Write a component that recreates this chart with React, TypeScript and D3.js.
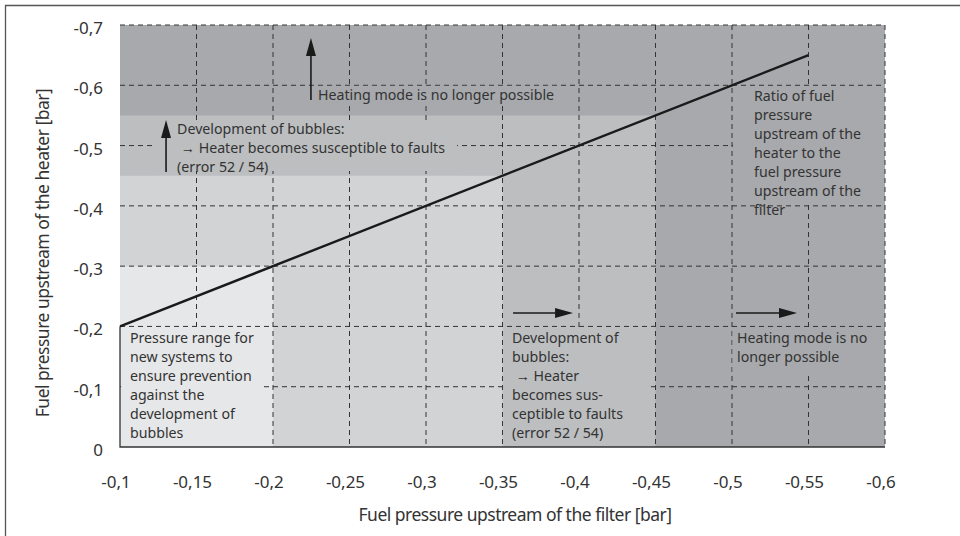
import React, { useEffect, useRef } from 'react';
import * as d3 from 'd3';

// axis ticks (bar)
const xTicks = [-0.1, -0.15, -0.2, -0.25, -0.3, -0.35, -0.4, -0.45, -0.5, -0.55, -0.6];
const yTicks = [0, -0.1, -0.2, -0.3, -0.4, -0.5, -0.6, -0.7];

// ratio line: heater pressure vs filter pressure
const ratioX = [-0.1, -0.55];
const ratioY = [-0.2, -0.65];

// nested shaded zones, drawn dark -> light
const zoneX1 = [-0.6, -0.45, -0.35, -0.2];
const zoneY1 = [-0.7, -0.55, -0.45, -0.3];
const zoneFill = ['#a7a9ac', '#bcbec0', '#d1d3d4', '#e6e7e8'];

// text boxes that hide the grid under the annotations [x0, x1, y0, y1, fill]
const boxes: [number, number, number, number, string][] = [
    [-0.2262, -0.3856, -0.599, -0.571, '#a7a9ac'],
    [-0.1229, -0.3203, -0.5407, -0.4578, '#bcbec0'],
    [-0.5007, -0.5987, -0.5971, -0.4030, '#a7a9ac'],
    [-0.1007, -0.1935, -0.1976, -0.0017, '#e6e7e8'],
    [-0.3503, -0.4444, -0.1976, -0.0017, '#bcbec0'],
    [-0.5003, -0.5967, -0.1976, -0.1244, '#a7a9ac'],
];

// arrows [x0, y0, x1, y1]
const arrows = [
    [-0.2248, -0.5756, -0.2248, -0.6784],
    [-0.1301, -0.4561, -0.1301, -0.5424],
    [-0.3569, -0.2223, -0.3961, -0.2223],
    [-0.5026, -0.2223, -0.5425, -0.2223],
];

type Note = { x: number; y: number; lines: string[] };
const notes: Note[] = [
    { x: -0.2294, y: -0.5755, lines: ['Heating mode is no longer possible'] },
    { x: -0.1373, y: -0.519, lines: ['Development of bubbles:', '\u00a0\u2192 Heater becomes susceptible to faults', '(error 52 / 54)'] },
    { x: -0.5144, y: -0.574, lines: ['Ratio of fuel', 'pressure', 'upstream of the', 'heater to the', 'fuel pressure', 'upstream of the', 'filter'] },
    { x: -0.1065, y: -0.1725, lines: ['Pressure range for', 'new systems to', 'ensure prevention', 'against the', 'development of', 'bubbles'] },
    { x: -0.3562, y: -0.1725, lines: ['Development of', 'bubbles:', '\u00a0\u2192 Heater', 'becomes sus-', 'ceptible to faults', '(error 52 / 54)'] },
    { x: -0.5033, y: -0.1725, lines: ['Heating mode is no', 'longer possible'] },
];

const fmt = (d: number) => (d === 0 ? '0' : String(d).replace('.', ','));

export default function App() {
    const ref = useRef<SVGSVGElement | null>(null);
    useEffect(() => {
        const svg = d3.select(ref.current);
        svg.selectAll('*').remove();
        const width = 960, height = 536;
        const font = '"Noto Sans", sans-serif';
        const ink = '#333';
        const x = d3.scaleLinear().domain([-0.1, -0.6]).range([120, 885]);
        const y = d3.scaleLinear().domain([0, -0.7]).range([447, 25]);

        svg.attr('viewBox', `0 0 ${width} ${height}`);
        svg.append('rect').attr('width', width).attr('height', height).attr('fill', '#fff');

        // outer frame
        svg.append('path').attr('d', `M5.5,${height} V5.5 H${width}`)
            .attr('fill', 'none').attr('stroke', '#555').attr('stroke-width', 1.3);

        // zones
        svg.append('g').selectAll('rect').data(zoneFill).join('rect')
            .attr('x', x(-0.1))
            .attr('y', (_, i) => y(zoneY1[i]))
            .attr('width', (_, i) => x(zoneX1[i]) - x(-0.1))
            .attr('height', (_, i) => y(0) - y(zoneY1[i]))
            .attr('fill', d => d);

        // dashed grid
        const grid = svg.append('g').attr('stroke', '#333').attr('stroke-width', 1).attr('stroke-dasharray', '5,4');
        grid.selectAll('line.v').data(xTicks.slice(1)).join('line').attr('class', 'v')
            .attr('x1', d => x(d)).attr('x2', d => x(d))
            .attr('y1', y(-0.7)).attr('y2', y(0));
        grid.selectAll('line.h').data(yTicks.slice(1)).join('line').attr('class', 'h')
            .attr('x1', x(-0.1)).attr('x2', x(-0.6))
            .attr('y1', d => y(d)).attr('y2', d => y(d));

        // solid frame of the base box
        svg.append('path')
            .attr('d', `M${x(-0.1)},${y(-0.2)} V${y(0)} H${x(-0.6)}`)
            .attr('fill', 'none').attr('stroke', '#333').attr('stroke-width', 1.3);

        // boxes behind annotations
        svg.append('g').selectAll('rect').data(boxes).join('rect')
            .attr('x', d => x(d[0])).attr('width', d => x(d[1]) - x(d[0]))
            .attr('y', d => y(d[2])).attr('height', d => y(d[3]) - y(d[2]))
            .attr('fill', d => d[4]);

        // ratio line
        const line = d3.line<number>().x(d => x(d)).y((_, i) => y(ratioY[i]));
        svg.append('path').attr('d', line(ratioX)).attr('fill', 'none')
            .attr('stroke', '#1a1a1a').attr('stroke-width', 2.4);

        // arrows
        const ag = svg.append('g');
        arrows.forEach(([ax0, ay0, ax1, ay1]) => {
            const x0 = x(ax0), y0 = y(ay0), x1 = x(ax1), y1 = y(ay1);
            const len = Math.hypot(x1 - x0, y1 - y0);
            const ux = (x1 - x0) / len, uy = (y1 - y0) / len;
            const hl = 18, hw = 5;
            const bx = x1 - ux * hl, by = y1 - uy * hl;
            ag.append('line').attr('x1', x0).attr('y1', y0).attr('x2', bx).attr('y2', by)
                .attr('stroke', '#1a1a1a').attr('stroke-width', 1.6);
            ag.append('path')
                .attr('d', `M${x1},${y1} L${bx - uy * hw},${by + ux * hw} L${bx + uy * hw},${by - ux * hw} Z`)
                .attr('fill', '#1a1a1a');
        });

        // annotation text
        const tg = svg.append('g').attr('font-family', font).attr('font-size', 14.2)
            .attr('fill', ink);
        notes.forEach(n => {
            const t = tg.append('text').attr('x', x(n.x)).attr('y', y(n.y));
            n.lines.forEach((l, i) => {
                t.append('tspan').attr('x', x(n.x)).attr('dy', i === 0 ? 0 : 19).text(l);
            });
        });

        // tick labels
        svg.append('g').attr('font-family', font).attr('font-size', 17).attr('fill', ink)
            .attr('text-anchor', 'middle')
            .selectAll('text').data(xTicks).join('text')
            .attr('x', d => x(d) - 4).attr('y', 488).text(fmt);
        svg.append('g').attr('font-family', font).attr('font-size', 17).attr('fill', ink)
            .attr('text-anchor', 'end')
            .selectAll('text').data(yTicks).join('text')
            .attr('x', 103).attr('y', d => y(d) + 9).text(fmt);

        // axis titles
        svg.append('text').attr('font-family', font).attr('font-size', 17.5).attr('fill', ink)
            .attr('letter-spacing', -0.5).attr('text-anchor', 'middle')
            .attr('x', 515).attr('y', 521).text('Fuel pressure upstream of the filter [bar]');
        svg.append('text').attr('font-family', font).attr('font-size', 17.5).attr('fill', ink)
            .attr('letter-spacing', -0.5).attr('text-anchor', 'middle')
            .attr('transform', 'translate(49,253) rotate(-90)')
            .text('Fuel pressure upstream of the heater [bar]');
    }, []);
    return (
        <div style={{ position: 'absolute', left: 0, top: 0 }}>
            <svg ref={ref} width={960} height={536} style={{ display: 'block' }} />
        </div>
    );
}
